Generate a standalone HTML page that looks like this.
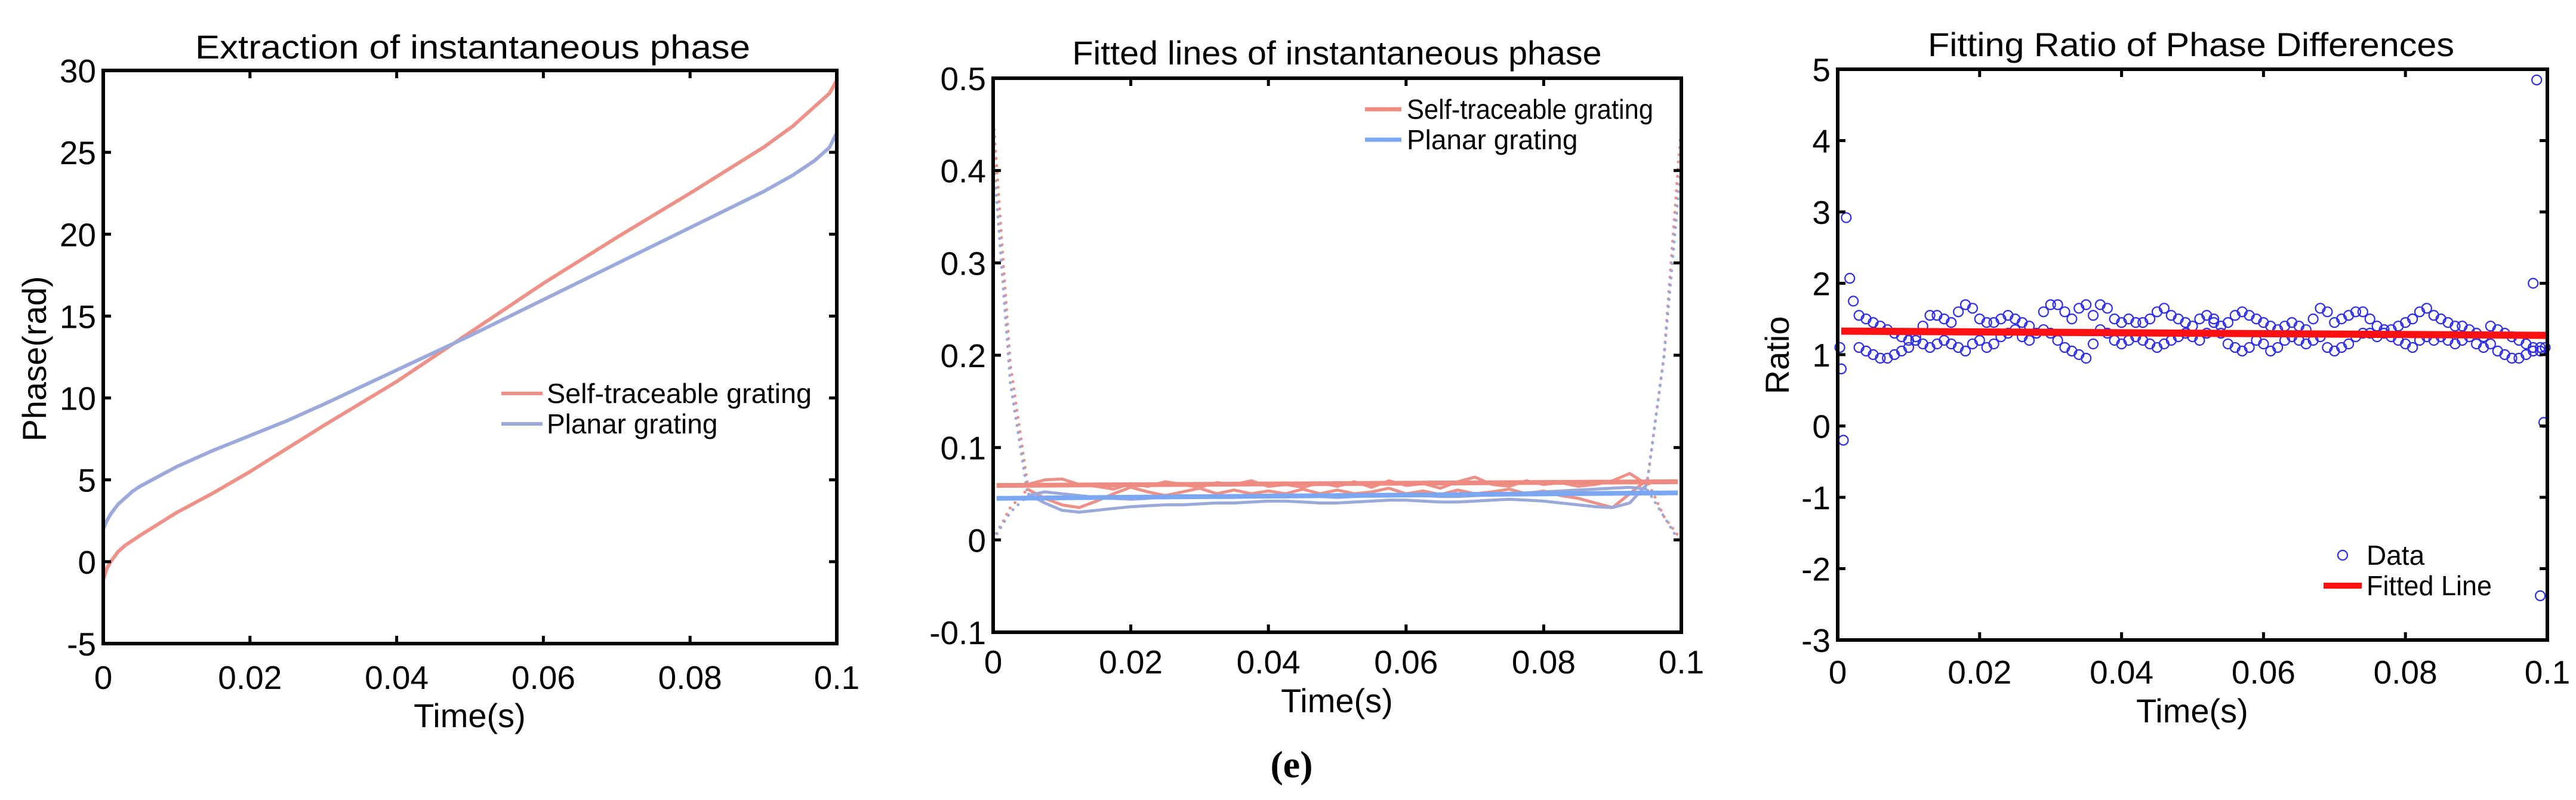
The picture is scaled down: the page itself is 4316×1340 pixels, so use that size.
<!DOCTYPE html>
<html><head><meta charset="utf-8"><title>Phase charts</title>
<style>
html,body{margin:0;padding:0;background:#fff;}
svg{display:block;font-family:"Liberation Sans",Arial,sans-serif;}
</style></head>
<body>
<svg id="fig" width="4316" height="1340" viewBox="0 0 4316 1340" xmlns="http://www.w3.org/2000/svg">
<rect x="0" y="0" width="4316" height="1340" fill="#fff"/>
<text x="2164" y="1302" text-anchor="middle" font-family="Liberation Serif, serif" font-weight="bold" font-size="64">(e)</text>
</svg>
<script>
// ---------- Panel 1 data ----------
const p1Times = [0,0.0005,0.001,0.002,0.003,0.004,0.005,0.0075,0.01,0.015,0.02,0.025,0.03,0.04,0.05,0.06,0.07,0.08,0.09,0.094,0.097,0.099,0.1];
const p1Self = [-1.1,-0.4,0.0,0.6,1.0,1.3,1.6,2.3,3.0,4.2,5.5,6.9,8.3,11.0,14.0,17.0,19.8,22.5,25.3,26.6,27.8,28.6,29.4];
const p1Planar = [2.0,2.5,2.9,3.5,3.9,4.3,4.6,5.2,5.8,6.8,7.7,8.6,9.6,11.7,13.8,16.0,18.2,20.4,22.6,23.6,24.5,25.3,26.2];
const p1YTicks = [-5,0,5,10,15,20,25,30];
const p1XTicks = [0,0.02,0.04,0.06,0.08,0.1];
const p1XLabels = ["0","0.02","0.04","0.06","0.08","0.1"];

// ---------- Panel 2 data ----------
const p2Times = [0,0.0025,0.005,0.0075,0.01,0.0125,0.015,0.0175,0.02,0.0225,0.025,0.0275,0.03,0.0325,0.035,0.0375,0.04,0.0425,0.045,0.0475,0.05,0.0525,0.055,0.0575,0.06,0.0625,0.065,0.0675,0.07,0.0725,0.075,0.0775,0.08,0.0825,0.085,0.0875,0.09,0.0925,0.095,0.0975,0.1];
const p2SelfUpper = [0.46,0.19,0.06,0.065,0.066,0.06,0.058,0.055,0.061,0.058,0.063,0.06,0.057,0.062,0.06,0.064,0.058,0.06,0.057,0.062,0.058,0.063,0.057,0.064,0.059,0.061,0.056,0.063,0.068,0.06,0.058,0.064,0.06,0.062,0.058,0.06,0.064,0.072,0.06,0.2,0.45];
const p2SelfLower = [0.0,0.035,0.055,0.045,0.038,0.035,0.042,0.05,0.057,0.052,0.048,0.052,0.056,0.05,0.054,0.05,0.053,0.05,0.055,0.05,0.054,0.05,0.052,0.056,0.05,0.053,0.049,0.054,0.05,0.052,0.055,0.05,0.053,0.048,0.045,0.04,0.035,0.05,0.065,0.025,0.0];
const p2PlanarUpper = [0.42,0.17,0.05,0.04,0.032,0.03,0.032,0.034,0.036,0.037,0.038,0.038,0.039,0.04,0.04,0.041,0.042,0.042,0.041,0.04,0.04,0.041,0.042,0.043,0.043,0.042,0.041,0.041,0.042,0.043,0.044,0.043,0.042,0.04,0.038,0.036,0.035,0.04,0.06,0.2,0.41];
const p2PlanarLower = [0.0,0.03,0.048,0.052,0.05,0.048,0.046,0.045,0.044,0.045,0.047,0.048,0.047,0.046,0.046,0.047,0.048,0.049,0.048,0.047,0.046,0.047,0.048,0.049,0.049,0.048,0.047,0.047,0.048,0.049,0.05,0.051,0.052,0.053,0.054,0.055,0.056,0.057,0.055,0.025,-0.005];
const p2SelfFit = [0.059,0.063];
const p2PlanarFit = [0.045,0.051];
const p2YTicks = [-0.1,0,0.1,0.2,0.3,0.4,0.5];
const p2YLabels = ["-0.1","0","0.1","0.2","0.3","0.4","0.5"];

// ---------- Panel 3 data ----------
const p3Start = 0.003;
const p3Step = 0.001;
const p3RatioA = [1.55,1.5,1.45,1.4,1.35,1.3,1.25,1.2,1.25,1.4,1.55,1.55,1.5,1.45,1.6,1.7,1.65,1.5,1.45,1.45,1.5,1.55,1.5,1.45,1.4,1.3,1.6,1.7,1.7,1.6,1.5,1.65,1.7,1.55,1.7,1.65,1.5,1.45,1.5,1.45,1.45,1.5,1.6,1.65,1.55,1.5,1.45,1.4,1.5,1.55,1.5,1.4,1.45,1.55,1.6,1.55,1.5,1.45,1.4,1.35,1.4,1.45,1.4,1.35,1.5,1.65,1.6,1.45,1.5,1.55,1.6,1.6,1.5,1.4,1.35,1.35,1.4,1.45,1.5,1.6,1.65,1.55,1.5,1.45,1.4,1.4,1.35,1.3,1.25,1.4,1.35,1.3,1.25,1.2,1.15,1.1,1.05];
const p3RatioB = [1.1,1.05,1.0,0.95,0.95,1.0,1.05,1.1,1.2,1.15,1.1,1.15,1.2,1.15,1.1,1.05,1.15,1.2,1.1,1.15,1.25,1.3,1.35,1.25,1.2,1.3,1.35,1.3,1.2,1.1,1.05,1.0,0.95,1.15,1.35,1.3,1.2,1.15,1.2,1.25,1.2,1.15,1.1,1.15,1.2,1.25,1.3,1.25,1.2,1.3,1.45,1.3,1.15,1.1,1.05,1.1,1.2,1.15,1.05,1.1,1.2,1.25,1.2,1.15,1.2,1.25,1.1,1.05,1.1,1.15,1.25,1.3,1.3,1.25,1.3,1.25,1.2,1.15,1.1,1.2,1.25,1.2,1.25,1.2,1.15,1.2,1.25,1.15,1.1,1.15,1.05,1.0,0.95,0.95,1.0,1.05,1.1];
const p3OutTimes = [0.0003,0.0005,0.0008,0.0012,0.0017,0.0022,0.098,0.0985,0.099,0.0995,0.0997];
const p3OutRatio = [1.1,0.8,-0.2,2.92,2.07,1.75,2.0,4.85,-2.38,0.05,1.1];
const p3Fit = [1.33,1.27];
const p3YTicks = [-3,-2,-1,0,1,2,3,4,5];

const NS = "http://www.w3.org/2000/svg";
const svg = document.getElementById("fig");
function mk(tag, attrs, parent, txt){
  const e = document.createElementNS(NS, tag);
  for (const k in attrs) e.setAttribute(k, attrs[k]);
  if (txt !== undefined) e.textContent = txt;
  (parent || svg).appendChild(e);
  return e;
}
function scale(d0,d1,r0,r1){ return v => r0 + (v-d0)/(d1-d0)*(r1-r0); }

function axes(P, xs, ys, yTicks, yLabels, prefix){
  const g = mk("g", {});
  
  
  p1XTicks.forEach((t,i)=>{
    const x = xs(t);
    mk("line",{x1:x,y1:P.b,x2:x,y2:P.b-13,stroke:"#000","stroke-width":5},g);
    mk("line",{x1:x,y1:P.t,x2:x,y2:P.t+13,stroke:"#000","stroke-width":5},g);
    const lab = mk("text",{x:x,y:P.xl,"text-anchor":"middle","font-size":55},g,p1XLabels[i]);
    
    
  });
  yTicks.forEach((t,i)=>{
    const y = ys(t);
    mk("line",{x1:P.l,y1:y,x2:P.l+13,y2:y,stroke:"#000","stroke-width":5},g);
    mk("line",{x1:P.r,y1:y,x2:P.r-13,y2:y,stroke:"#000","stroke-width":5},g);
    const lab = mk("text",{x:P.l-12,y:y+20,"text-anchor":"end","font-size":55},g,yLabels[i]);
    
    
  });
  const fr = mk("rect",{x:P.l,y:P.t,width:P.r-P.l,height:P.b-P.t,fill:"none",stroke:"#000","stroke-width":6},g);
  
  
}
function poly(xsArr, ysArr, xs, ys, attrs, name){
  const pts = xsArr.map((t,i)=>xs(t).toFixed(1)+","+ys(ysArr[i]).toFixed(1)).join(" ");
  const p = mk("polyline", Object.assign({points:pts,fill:"none"}, attrs));
  
  
  return p;
}
function txt(x,y,s,size,name,extra){
  const t = mk("text", Object.assign({x:x,y:y,"font-size":size}, extra||{}), svg, s);
  
  
  return t;
}

// ===== Panel 1 =====
{
  const P = {l:173,r:1402,t:118,b:1078,xl:1154};
  const xs = scale(0,0.1,P.l,P.r), ys = scale(-5,30,P.b,P.t);
  poly(p1Times,p1Self,xs,ys,{stroke:"#ee9188","stroke-width":6,"stroke-linejoin":"round"},"self-traceable-phase-line");
  poly(p1Times,p1Planar,xs,ys,{stroke:"#9caadb","stroke-width":6,"stroke-linejoin":"round"},"planar-phase-line");
  axes(P,xs,ys,p1YTicks,p1YTicks.map(String),"panel1");
  txt(792,98,"Extraction of instantaneous phase",56,"panel1-title",{"text-anchor":"middle",textLength:930,lengthAdjust:"spacingAndGlyphs"});
  txt(787,1218,"Time(s)",56,"panel1-x-axis-title",{"text-anchor":"middle"});
  txt(0,0,"Phase(rad)",56,"panel1-y-axis-title",{"text-anchor":"middle",transform:"translate(77,601) rotate(-90)"});
  const l1 = mk("line",{x1:840,y1:659,x2:909,y2:659,stroke:"#ee9188","stroke-width":6});
  
  
  txt(916,675,"Self-traceable grating",46,"panel1-legend-self",{textLength:444,lengthAdjust:"spacingAndGlyphs"});
  const l2 = mk("line",{x1:840,y1:710,x2:909,y2:710,stroke:"#9caadb","stroke-width":6});
  
  
  txt(916,726,"Planar grating",46,"panel1-legend-planar",{});
}

// ===== Panel 2 =====
{
  const P = {l:1664,r:2817,t:131,b:1059,xl:1128};
  const xs = scale(0,0.1,P.l,P.r), ys = scale(-0.1,0.5,P.b,P.t);
  const dot = {"stroke-width":5,"stroke-linecap":"round","stroke-dasharray":"0.1 12"};
  poly(p2Times,p2SelfUpper,xs,ys,Object.assign({stroke:"#ec9088"},dot),"self-traceable-phase-upper");
  poly(p2Times,p2SelfLower,xs,ys,Object.assign({stroke:"#ec9088"},dot),"self-traceable-phase-lower");
  poly(p2Times,p2PlanarUpper,xs,ys,Object.assign({stroke:"#9aa8da"},dot),"planar-phase-upper");
  poly(p2Times,p2PlanarLower,xs,ys,Object.assign({stroke:"#9aa8da"},dot),"planar-phase-lower");
  poly(p2Times.slice(2,39),p2SelfUpper.slice(2,39),xs,ys,{stroke:"#ec9088","stroke-width":5,"stroke-linejoin":"round"},"self-traceable-phase-upper-core");
  poly(p2Times.slice(2,39),p2SelfLower.slice(2,39),xs,ys,{stroke:"#ec9088","stroke-width":5,"stroke-linejoin":"round"},"self-traceable-phase-lower-core");
  poly(p2Times.slice(2,39),p2PlanarUpper.slice(2,39),xs,ys,{stroke:"#9aa8da","stroke-width":5,"stroke-linejoin":"round"},"planar-phase-upper-core");
  poly(p2Times.slice(2,39),p2PlanarLower.slice(2,39),xs,ys,{stroke:"#9aa8da","stroke-width":5,"stroke-linejoin":"round"},"planar-phase-lower-core");
  poly([0.0005,0.0995],p2SelfFit,xs,ys,{stroke:"#ee8a80","stroke-width":8},"self-traceable-fit-line");
  poly([0.0005,0.0995],p2PlanarFit,xs,ys,{stroke:"#7aa6f2","stroke-width":8},"planar-fit-line");
  axes(P,xs,ys,p2YTicks,p2YLabels,"panel2");
  txt(2240,108,"Fitted lines of instantaneous phase",56,"panel2-title",{"text-anchor":"middle",textLength:887,lengthAdjust:"spacingAndGlyphs"});
  txt(2240,1193,"Time(s)",56,"panel2-x-axis-title",{"text-anchor":"middle"});
  const l1 = mk("line",{x1:2287,y1:183,x2:2348,y2:183,stroke:"#ee8a80","stroke-width":7});
  
  
  txt(2357,199,"Self-traceable grating",46,"panel2-legend-self",{textLength:413,lengthAdjust:"spacingAndGlyphs"});
  const l2 = mk("line",{x1:2287,y1:234,x2:2348,y2:234,stroke:"#7aa6f2","stroke-width":7});
  
  
  txt(2357,250,"Planar grating",46,"panel2-legend-planar",{});
}

// ===== Panel 3 =====
{
  const P = {l:3079,r:4268,t:116,b:1072,xl:1145};
  const xs = scale(0,0.1,P.l,P.r), ys = scale(-3,5,P.b,P.t);
  const g = mk("g",{fill:"none",stroke:"#2b2bf0","stroke-width":2.2});
  
  
  function circ(t,v){
    const c = mk("circle",{cx:xs(t),cy:ys(v),r:8},g);
    
    
  }
  p3RatioA.forEach((v,i)=>circ(p3Start+i*p3Step,v));
  p3RatioB.forEach((v,i)=>circ(p3Start+i*p3Step,v));
  p3OutTimes.forEach((t,i)=>circ(t,p3OutRatio[i]));
  poly([0.0005,0.1],p3Fit,xs,ys,{stroke:"#ff1010","stroke-width":12},"ratio-fitted-line");
  axes(P,xs,ys,p3YTicks,p3YTicks.map(String),"panel3");
  txt(3671,94,"Fitting Ratio of Phase Differences",56,"panel3-title",{"text-anchor":"middle",textLength:882,lengthAdjust:"spacingAndGlyphs"});
  txt(3673,1210,"Time(s)",56,"panel3-x-axis-title",{"text-anchor":"middle"});
  txt(0,0,"Ratio",56,"panel3-y-axis-title",{"text-anchor":"middle",transform:"translate(2997,595) rotate(-90)"});
  const m = mk("circle",{cx:3925,cy:930,r:8,fill:"none",stroke:"#2b2bf0","stroke-width":2.2});
  
  
  txt(3965,946,"Data",46,"panel3-legend-data",{});
  const l = mk("line",{x1:3893,y1:981,x2:3957,y2:981,stroke:"#ff1010","stroke-width":10});
  
  
  txt(3965,997,"Fitted Line",46,"panel3-legend-fit",{textLength:210,lengthAdjust:"spacingAndGlyphs"});
}
</script>
</body></html>
